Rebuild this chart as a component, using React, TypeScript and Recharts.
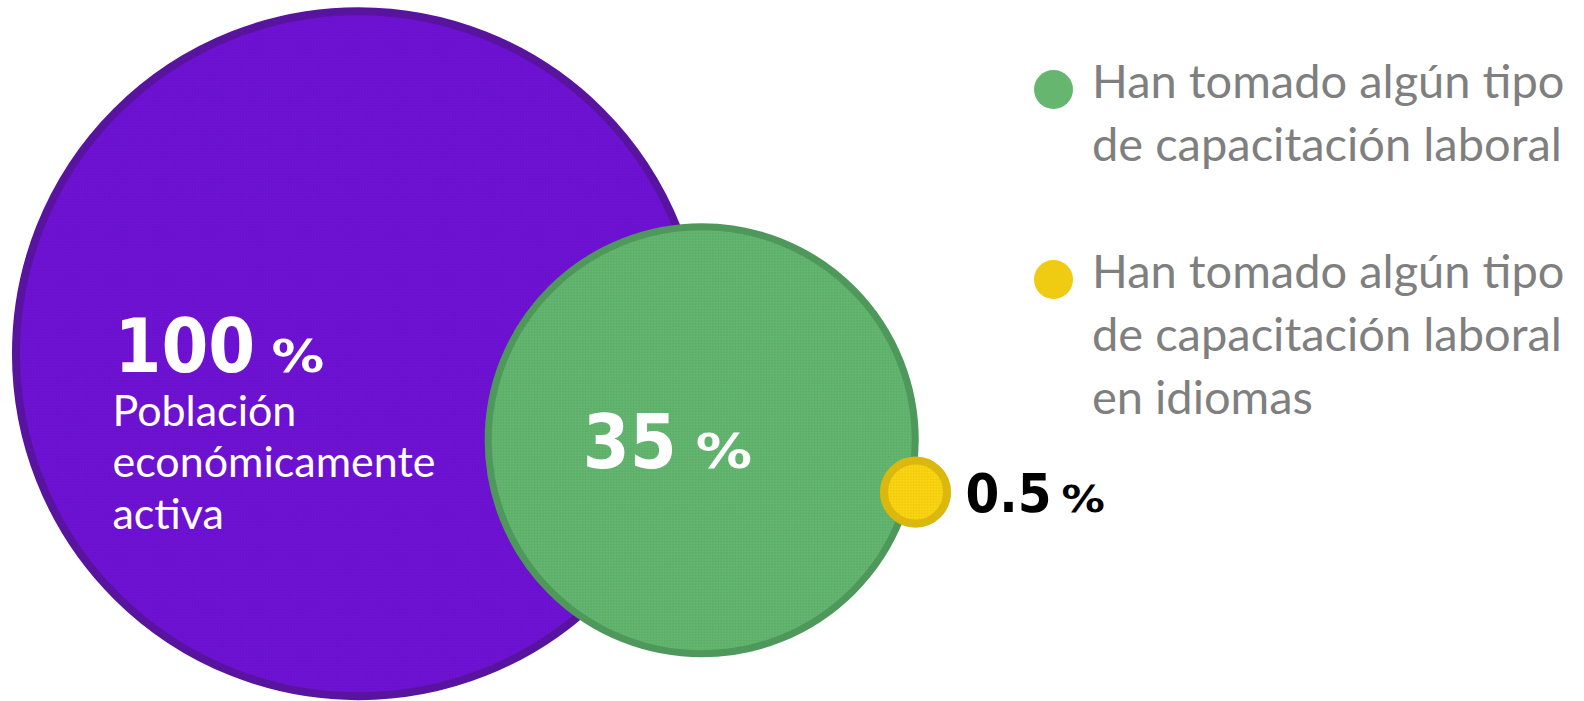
import React from 'react';
import { ScatterChart, Scatter, XAxis, YAxis, ZAxis, Legend } from 'recharts';

// ---- data ----
const circleNames: string[] = [
  'Población económicamente activa',
  'Han tomado algún tipo de capacitación laboral',
  'Han tomado algún tipo de capacitación laboral en idiomas',
];
const circleValues: number[] = [100, 35, 0.5];
const valueLabels: string[] = ['100', '35', '0.5'];
const circleX: number[] = [22.63, 44.3, 57.8];
const circleY: number[] = [49.55, 37.2, 29.8];

// ---- styles ----
const fills = ['#6f12d6', '#63b770', '#fdd611'];
const strokes = ['#59149f', '#4f985b', '#dbb80d'];
const strokeWidths = [8, 7, 8];
const legendDotColors = ['#66b66f', '#efcb12'];
const W = 1584;
const H = 701;
const MAX_R = 342.5;
const AREA_EXP = 0.9;

const NUM_FONT = "'DejaVu Sans Condensed', 'DejaVu Sans', sans-serif";
const PCT_FONT = "'DejaVu Sans', sans-serif";
const TEXT_FONT = "Lato, 'Open Sans', sans-serif";

const data = circleNames.map((name, i) => ({
  name,
  value: circleValues[i],
  label: valueLabels[i],
  x: circleX[i],
  y: circleY[i],
}));

const radiusOf = (p: any) =>
  p.width != null ? p.width / 2 : Math.sqrt(Math.max(p.size || 0, 0) / Math.PI);

const Texture = () => (
  <defs>
    <pattern id="chk" width="4" height="4" patternUnits="userSpaceOnUse" patternTransform="rotate(45)">
      <rect x="0" y="0" width="2" height="2" fill="#000000" fillOpacity="0.05" />
      <rect x="2" y="2" width="2" height="2" fill="#000000" fillOpacity="0.05" />
    </pattern>
  </defs>
);

const Disc = ({ cx, cy, r, i }: any) => (
  <g>
    <circle cx={cx} cy={cy} r={r} fill={fills[i]} />
    <circle cx={cx} cy={cy} r={r} fill="url(#chk)" stroke={strokes[i]} strokeWidth={strokeWidths[i]} />
  </g>
);

const Pct = ({ x, y, size, color }: any) => (
  <text
    transform={`translate(${x},${y}) scale(1.17,1)`}
    fill={color}
    fontFamily={PCT_FONT}
    fontWeight="bold"
    fontSize={size}
  >
    %
  </text>
);

const PurpleShape = (p: any) => {
  const { cx, cy, payload } = p;
  const r = radiusOf(p);
  const words: string[] = String(payload.name).split(' ');
  return (
    <g>
      <Texture />
      <Disc cx={cx} cy={cy} r={r} i={0} />
      <text x={cx - 244} y={cy + 18} fill="#ffffff" fontFamily={NUM_FONT} fontWeight="bold" fontSize={75}>
        {payload.label}
      </text>
      <Pct x={cx - 87} y={cy + 18} size={45} color="#ffffff" />
      {words.map((w, k) => (
        <text key={k} x={cx - 246} y={cy + 72 + k * 51.5} fill="#ffffff" fontFamily={TEXT_FONT} fontSize={43}>
          {w}
        </text>
      ))}
    </g>
  );
};

const GreenShape = (p: any) => {
  const { cx, cy, payload } = p;
  const r = radiusOf(p);
  return (
    <g>
      <Disc cx={cx} cy={cy} r={r} i={1} />
      <text x={cx - 119} y={cy + 28} fill="#ffffff" fontFamily={NUM_FONT} fontWeight="bold" fontSize={75}>
        {payload.label}
      </text>
      <Pct x={cx - 6} y={cy + 28} size={48} color="#ffffff" />
    </g>
  );
};

const YellowShape = (p: any) => {
  const { cx, cy, payload } = p;
  const r = radiusOf(p);
  return (
    <g>
      <Disc cx={cx} cy={cy} r={r} i={2} />
      <text x={cx + 50} y={cy + 20} fill="#000000" fontFamily={NUM_FONT} fontWeight="bold" fontSize={54}>
        {payload.label}
      </text>
      <Pct x={cx + 146} y={cy + 20} size={37} color="#000000" />
    </g>
  );
};

const legendDotCy = [89.5, 279.5];
const legendTextTop = [49.3, 239.3];

const renderLegend = (props: any) => {
  const items = (props.payload || []).filter(
    (it: any) => it.type !== 'none' && it.value !== circleNames[0],
  );
  return (
    <div>
      {items.map((it: any, i: number) => (
        <div key={i}>
          <div
            style={{
              position: 'absolute',
              left: 1034,
              top: legendDotCy[i] - 19.5,
              width: 39,
              height: 39,
              borderRadius: '50%',
              background: legendDotColors[i] || it.color,
            }}
          />
          <div
            style={{
              position: 'absolute',
              left: 1092,
              top: legendTextTop[i],
              width: 500,
              fontFamily: TEXT_FONT,
              fontSize: 47,
              lineHeight: '63px',
              color: '#7f7f7f',
              textAlign: 'left',
              whiteSpace: 'normal',
            }}
          >
            {it.value}
          </div>
        </div>
      ))}
    </div>
  );
};

export default function App() {
  return (
    <div style={{ position: 'absolute', left: 0, top: 0, width: W, height: H, background: '#ffffff' }}>
      <ScatterChart width={W} height={H} margin={{ top: 0, right: 0, bottom: 0, left: 0 }}>
        <XAxis type="number" dataKey="x" domain={[0, 100]} hide />
        <YAxis type="number" dataKey="y" domain={[0, 100]} hide />
        <ZAxis
          type="number"
          dataKey={(d: any) => Math.pow(d.value, AREA_EXP)}
          domain={[0, 'dataMax']}
          range={[0, Math.PI * MAX_R * MAX_R]}
        />
        <Scatter
          name={circleNames[0]}
          data={[data[0]]}
          fill={fills[0]}
          legendType="none"
          shape={PurpleShape}
          isAnimationActive={false}
        />
        <Scatter
          name={circleNames[1]}
          data={[data[1]]}
          fill={fills[1]}
          shape={GreenShape}
          isAnimationActive={false}
        />
        <Scatter
          name={circleNames[2]}
          data={[data[2]]}
          fill={fills[2]}
          shape={YellowShape}
          isAnimationActive={false}
        />
        <Legend content={renderLegend} wrapperStyle={{ left: 0, top: 0, width: 0, height: 0 }} />
      </ScatterChart>
    </div>
  );
}
